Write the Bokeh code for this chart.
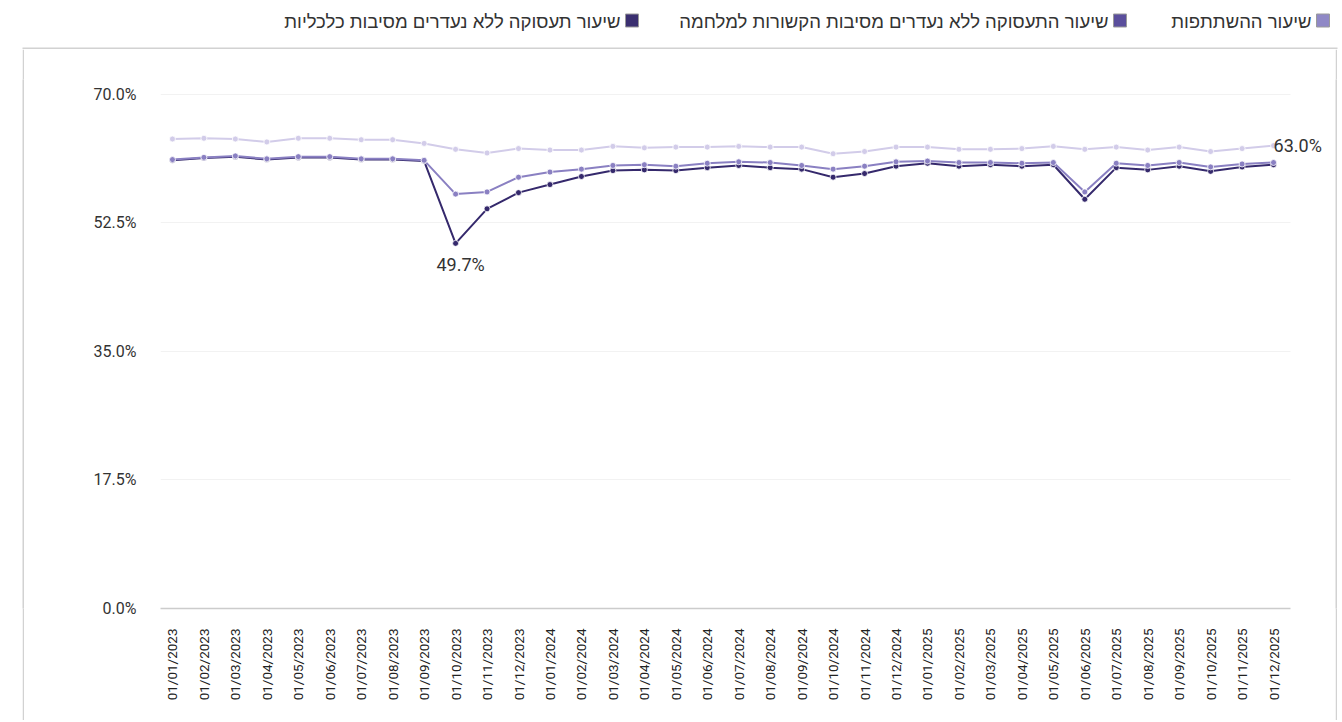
import math
from bokeh.plotting import figure
from bokeh.layouts import column, row
from bokeh.models import FixedTicker, PrintfTickFormatter, ColumnDataSource, Spacer
from bokeh.core.properties import value
from bokeh.embed import file_html
from bokeh.resources import INLINE

dates = [f"01/{m:02d}/{y}" for y in (2023, 2024, 2025) for m in range(1, 13)]

participation = [63.9, 64.0, 63.9, 63.5, 64.0, 64.0, 63.8, 63.8, 63.3, 62.5, 62.0, 62.6,
                 62.4, 62.4, 62.9, 62.7, 62.8, 62.8, 62.9, 62.8, 62.8, 61.9, 62.2, 62.8,
                 62.8, 62.5, 62.5, 62.6, 62.9, 62.5, 62.8, 62.4, 62.8, 62.2, 62.6, 63.0]
war_excl = [61.1, 61.4, 61.6, 61.2, 61.5, 61.5, 61.2, 61.2, 61.0, 56.4, 56.7, 58.7,
            59.4, 59.8, 60.3, 60.4, 60.2, 60.6, 60.8, 60.7, 60.3, 59.8, 60.2, 60.8,
            60.9, 60.7, 60.7, 60.6, 60.7, 56.7, 60.6, 60.3, 60.7, 60.1, 60.5, 60.7]
econ_excl = [61.0, 61.3, 61.5, 61.1, 61.4, 61.4, 61.1, 61.1, 60.9, 49.7, 54.4, 56.6,
             57.7, 58.8, 59.6, 59.7, 59.6, 60.0, 60.3, 60.0, 59.8, 58.7, 59.2, 60.2,
             60.6, 60.2, 60.4, 60.2, 60.4, 55.7, 60.0, 59.7, 60.2, 59.5, 60.1, 60.4]

series_names = ["שיעור ההשתתפות",
                "שיעור התעסוקה ללא נעדרים מסיבות הקשורות למלחמה",
                "שיעור תעסוקה ללא נעדרים מסיבות כלכליות"]
legend_colors = ["#8f88c6", "#5a4e9c", "#3a2f70"]
line_colors = ["#d2cce9", "#8a80c2", "#35296c"]
y_ticks = [0, 17.5, 35, 52.5, 70]

BORDER = "#d2d2d2"
PAGE_W, PAGE_H = 1342, 720
LEG_H = 49
ROW_H = PAGE_H - LEG_H
CARD_L, CARD_R = 22, 1335          # left / right edge lines of the chart card
MAIN_W = CARD_R - (CARD_L + 2)


def blank(w, h, fill="white"):
    f = figure(width=w, height=h, output_backend="svg", toolbar_location=None,
               x_range=(0, w), y_range=(h, 0), min_border=0,
               x_axis_type=None, y_axis_type=None)
    f.outline_line_color = None
    f.xgrid.visible = False
    f.ygrid.visible = False
    f.border_fill_color = fill
    f.background_fill_color = fill
    return f


# ---- legend strip (right-to-left items) + top edge of the card ----
leg = blank(PAGE_W, LEG_H)
box_right = [1329, 1126, 638]
box = 13
yc = 20
leg.quad(left=[r - box for r in box_right], right=box_right,
         top=[yc - box / 2] * 3, bottom=[yc + box / 2] * 3,
         fill_color=legend_colors, line_color="#9a9a9a", line_width=1)
leg.text(x=[r - box - 5 for r in box_right], y=[yc + 1] * 3, text=series_names,
         text_align="right", text_baseline="middle",
         text_font=value("Liberation Sans"), text_font_size="18.5px", text_color="#333333")
leg.quad(left=[CARD_L], right=[CARD_R + 2], top=[LEG_H - 2], bottom=[LEG_H],
         fill_color=BORDER, line_color=None)

# ---- side edges of the card ----
edge_l = blank(2, ROW_H, BORDER)
edge_r = blank(2, ROW_H, BORDER)

# ---- main chart ----
n = len(dates)
xs = list(range(n))
x_lo, x_hi = -0.38, 35.54
p = figure(width=MAIN_W, height=ROW_H, output_backend="svg", toolbar_location=None,
           x_range=(x_lo, 36.81), y_range=(0, 72),
           min_border_left=136, min_border_right=5, min_border_top=30,
           min_border_bottom=112)
p.outline_line_color = None
p.background_fill_color = "white"
p.border_fill_color = "white"

data = [participation, war_excl, econ_excl]
for i in [0, 2, 1]:
    src = ColumnDataSource(dict(x=xs, y=data[i]))
    p.line("x", "y", source=src, line_color=line_colors[i], line_width=2)
    p.scatter("x", "y", source=src, size=6, fill_color=line_colors[i],
              line_color="white", line_width=0.8)

imin = econ_excl.index(min(econ_excl))
p.text(x=[imin], y=[econ_excl[imin]], text=[f"{econ_excl[imin]:.1f}%"],
       text_align="center", text_baseline="middle", x_offset=5, y_offset=21,
       text_font=value("Roboto"), text_font_size="18px", text_color="#333333")
p.text(x=[n - 1], y=[participation[-1]], text=[f"{participation[-1]:.1f}%"],
       text_align="left", text_baseline="middle", x_offset=0, y_offset=0,
       text_font=value("Roboto"), text_font_size="18px", text_color="#333333")

p.xgrid.grid_line_color = None
p.ygrid.grid_line_color = "#f2f2f2"
p.ygrid.ticker = FixedTicker(ticks=y_ticks)
try:
    p.ygrid.cross_bounds = (x_lo, x_hi)
except Exception:
    pass

p.yaxis.ticker = FixedTicker(ticks=y_ticks)
p.yaxis.formatter = PrintfTickFormatter(format="%.1f%%")
p.yaxis.axis_line_color = None
p.yaxis.major_tick_line_color = None
p.yaxis.minor_tick_line_color = None
p.yaxis.major_tick_out = 0
p.yaxis.major_label_standoff = 24
p.yaxis.major_label_text_font = "Roboto"
p.yaxis.major_label_text_font_size = "16px"
p.yaxis.major_label_text_color = "#333333"

p.xaxis.ticker = FixedTicker(ticks=xs)
p.xaxis.major_label_overrides = {i: d for i, d in enumerate(dates)}
p.xaxis.major_label_orientation = math.pi / 2
p.xaxis.bounds = (x_lo, x_hi)
p.xaxis.axis_line_color = "#cccccc"
p.xaxis.axis_line_width = 1.5
p.xaxis.major_tick_line_color = None
p.xaxis.minor_tick_line_color = None
p.xaxis.major_tick_out = 0
p.xaxis.major_label_standoff = 20
p.xaxis.major_label_text_font = "Roboto"
p.xaxis.major_label_text_font_size = "13.5px"
p.xaxis.major_label_text_color = "#222222"

body = row(Spacer(width=CARD_L, height=ROW_H), edge_l, p, edge_r,
           Spacer(width=PAGE_W - CARD_R - 2, height=ROW_H), spacing=0)
layout = column(leg, body, spacing=0)
open("out.html", "w").write(file_html(layout, INLINE))
